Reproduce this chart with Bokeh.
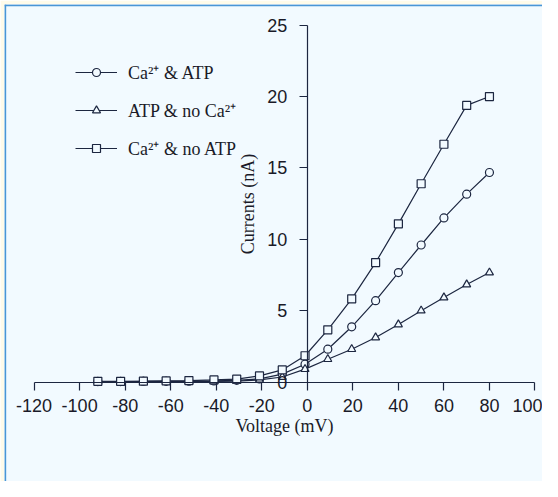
from bokeh.plotting import figure
from bokeh.models import (Range1d, LinearAxis, FixedTicker, Legend, LegendItem, Span)
from bokeh.embed import file_html
from bokeh.resources import INLINE

# ---- data ----
voltage = [-92, -82, -72, -62, -52, -41, -31, -21, -11, -1, 9, 19.5, 30, 40, 50, 60, 70, 80]
ca_atp = [0.03, 0.03, 0.04, 0.05, 0.06, 0.08, 0.12, 0.22, 0.55, 1.25, 2.3, 3.87, 5.7, 7.67, 9.6, 11.5, 13.16, 14.68]
atp_noca = [0.02, 0.02, 0.02, 0.03, 0.03, 0.04, 0.06, 0.15, 0.35, 0.9, 1.6, 2.3, 3.12, 4.03, 5.0, 5.92, 6.83, 7.67]
ca_noatp = [0.05, 0.05, 0.06, 0.08, 0.1, 0.15, 0.2, 0.43, 0.85, 1.84, 3.66, 5.83, 8.37, 11.08, 13.89, 16.66, 19.38, 20.0]
series_labels = ["Ca\u00b2\u207a & ATP", "ATP & no Ca\u00b2\u207a", "Ca\u00b2\u207a & no ATP"]
x_ticks = [-120, -100, -80, -60, -40, -20, 0, 20, 40, 60, 80, 100]
x_tick_labels = ["-120", "-100", "-80", "-60", "-40", "-20", "0", "20", "40", "60", "80", "100"]
y_ticks = [0, 5, 10, 15, 20, 25]
y_tick_labels = ["0", "5", "10", "15", "20", "25"]

INK = "#1c2640"
INNER = "#f2faff"
CREAM = "#fffbea"
BLUE = "#4a96d6"

p = figure(width=542, height=481, output_backend="svg", toolbar_location=None,
           x_range=Range1d(-133.0, 103.3), y_range=Range1d(-6.97, 26.45),
           x_axis_type=None, y_axis_type=None,
           min_border_left=4, min_border_top=4, min_border_right=0, min_border_bottom=0,
           border_fill_color=CREAM, background_fill_color=INNER, outline_line_color=None)
p.xgrid.visible = False
p.ygrid.visible = False

# frame border (top/left visible in the reference)
p.add_layout(Span(location=-132.7, dimension="height", line_color=BLUE, line_width=2))
p.add_layout(Span(location=26.4, dimension="width", line_color=BLUE, line_width=2))

xaxis = LinearAxis(fixed_location=0, bounds=(-120, 100), ticker=FixedTicker(ticks=x_ticks),
                   axis_label="Voltage (mV)")
xaxis.major_label_overrides = {t: s for t, s in zip(x_ticks, x_tick_labels)}
yaxis = LinearAxis(fixed_location=0, bounds=(0, 25), ticker=FixedTicker(ticks=y_ticks),
                   axis_label="Currents (nA)")
yaxis.major_label_overrides = {t: s for t, s in zip(y_ticks, y_tick_labels)}
for ax in (xaxis, yaxis):
    ax.axis_line_color = INK
    ax.axis_line_width = 1.2
    ax.major_tick_line_color = INK
    ax.major_tick_line_width = 1.2
    ax.major_tick_out = 8
    ax.major_tick_in = 0
    ax.minor_tick_line_color = None
    ax.major_label_text_font = "Liberation Sans"
    ax.major_label_text_font_size = "18px"
    ax.major_label_text_color = "#1a1a28"
    ax.axis_label_text_font = "Liberation Serif"
    ax.axis_label_text_font_size = "18px"
    ax.axis_label_text_font_style = "normal"
    ax.axis_label_text_color = "#1a1a28"
xaxis.major_label_standoff = 9
xaxis.axis_label_standoff = 0
yaxis.major_label_standoff = 12
yaxis.axis_label_standoff = 6
p.add_layout(xaxis, "below")
p.add_layout(yaxis, "left")

items = []
for ys, marker, label in [(ca_atp, "circle", series_labels[0]),
                          (atp_noca, "triangle", series_labels[1]),
                          (ca_noatp, "square", series_labels[2])]:
    ln = p.line(voltage, ys, line_color=INK, line_width=1.2)
    sc = p.scatter(voltage, ys, marker=marker, size=8, line_color=INK, line_width=1.2,
                   fill_color=INNER)
    items.append(LegendItem(label=label, renderers=[ln, sc]))

legend = Legend(items=items, location=(71, 321), glyph_width=42, glyph_height=20,
                label_height=20, spacing=14, label_standoff=11, padding=0, margin=0,
                border_line_color=None, background_fill_alpha=0,
                label_text_font="Liberation Serif", label_text_font_size="18px",
                label_text_color="#1a1a28")
p.add_layout(legend, "center")

open("out.html", "w").write(file_html(p, INLINE))
